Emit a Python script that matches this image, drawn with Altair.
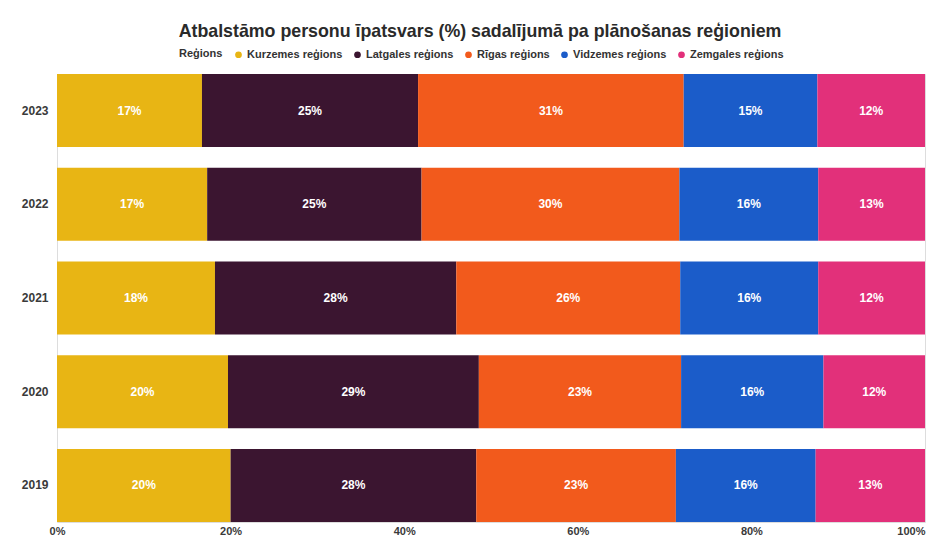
import altair as alt
import pandas as pd

years = ["2023", "2022", "2021", "2020", "2019"]
regions = ["Kurzemes reģions", "Latgales reģions", "Rīgas reģions", "Vidzemes reģions", "Zemgales reģions"]
colors = ["#E8B514", "#3B1530", "#F25A1C", "#1B5CC9", "#E2307A"]

shares = {
    "2023": [16.7, 24.9, 30.6, 15.4, 12.4],
    "2022": [17.3, 24.7, 29.7, 16.0, 12.3],
    "2021": [18.2, 27.8, 25.8, 15.9, 12.3],
    "2020": [19.7, 28.9, 23.3, 16.4, 11.7],
    "2019": [20.0, 28.3, 23.0, 16.1, 12.6],
}
labels = {
    "2023": [17, 25, 31, 15, 12],
    "2022": [17, 25, 30, 16, 13],
    "2021": [18, 28, 26, 16, 12],
    "2020": [20, 29, 23, 16, 12],
    "2019": [20, 28, 23, 16, 13],
}
x_ticks = [0, 0.2, 0.4, 0.6, 0.8, 1.0]

rows = []
for y in years:
    for i, r in enumerate(regions):
        rows.append({"year": y, "region": r, "order": i, "value": shares[y][i],
                     "label": f"{labels[y][i]}%"})
df = pd.DataFrame(rows)

FONT = "Liberation Sans"

base = alt.Chart(df).transform_stack(
    stack="value", as_=["v0", "v1"], groupby=["year"], offset="normalize",
    sort=[alt.SortField("order", order="ascending")]
).transform_calculate(mid="(datum.v0 + datum.v1) / 2")

yenc = alt.Y("year:N", sort=years, title=None,
             scale=alt.Scale(paddingInner=0.22, paddingOuter=0),
             axis=alt.Axis(ticks=False, domain=False, labelPadding=9, labelFontSize=12,
                           labelFontWeight="bold", labelColor="#3a3a3a", labelFont=FONT))

bars = base.mark_bar().encode(
    x=alt.X("v0:Q", title=None, scale=alt.Scale(domain=[0, 1], nice=False),
            axis=alt.Axis(format="%", values=x_ticks, grid=False,
                          ticks=False, domain=False, labelPadding=3, labelFontSize=11,
                          labelFontWeight="bold", labelColor="#3a3a3a", labelFont=FONT,
                          labelOverlap=False, labelFlush=False,
                          labelAlign=alt.ExprRef("datum.value >= 1 ? 'right' : 'center'"))),
    x2="v1:Q",
    y=yenc,
    color=alt.Color("region:N", sort=regions,
                    scale=alt.Scale(domain=regions, range=colors),
                    legend=alt.Legend(title="Reģions", orient="none", legendX=122, legendY=-25,
                                      direction="horizontal", titleOrient="left",
                                      symbolType="circle", symbolSize=45, symbolStrokeWidth=0,
                                      labelFontSize=11, labelFontWeight="bold", labelColor="#333333",
                                      titleFontSize=11, titleFontWeight="bold", titleColor="#333333",
                                      labelFont=FONT, titleFont=FONT, columnPadding=9,
                                      labelOffset=3, titlePadding=10, labelLimit=200)),
)

text = base.mark_text(color="white", fontWeight="bold", fontSize=12, font=FONT).encode(
    x=alt.X("mid:Q"),
    y=alt.Y("year:N", sort=years),
    text="label:N",
)

chart = alt.layer(bars, text).properties(
    width=868, height=448,
    autosize=alt.AutoSizeParams(type="none"),
    padding={"left": 49, "top": 66, "right": 9, "bottom": 14},
    title=alt.TitleParams("Atbalstāmo personu īpatsvars (%) sadalījumā pa plānošanas reģioniem",
                          font=FONT, fontSize=17.8, fontWeight="bold", color="#2a2a2a",
                          anchor="middle", dx=-11, offset=8),
).configure_view(stroke=None).configure(background="white")

chart.save("out.html", embed_options={"renderer": "svg", "actions": False})
